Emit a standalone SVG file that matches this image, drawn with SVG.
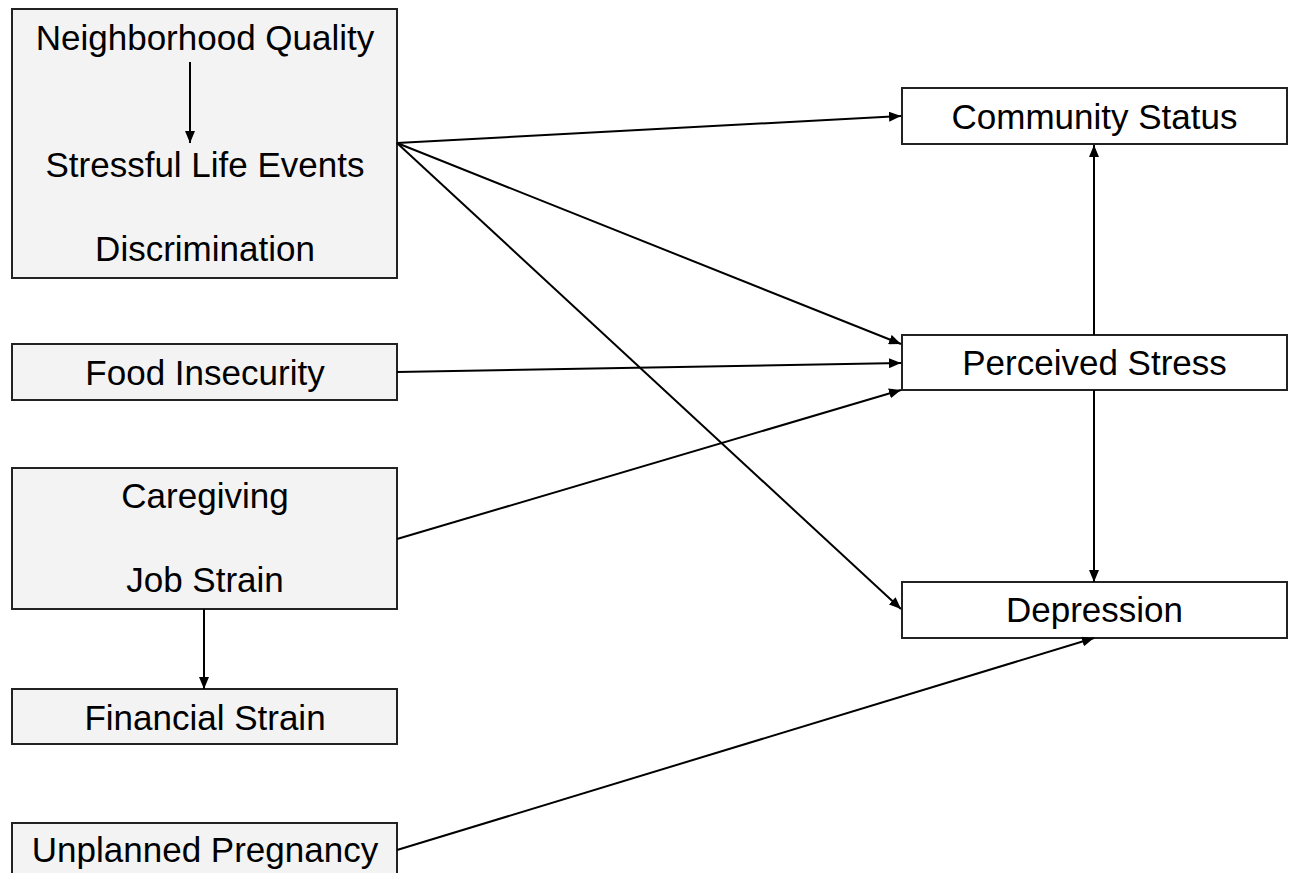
<svg xmlns="http://www.w3.org/2000/svg" width="1290" height="873" viewBox="0 0 1290 873">
<style>
.box{fill:#f3f3f3;stroke:#222;stroke-width:2}
.wbox{fill:#fff;stroke:#222;stroke-width:2}
text{font-family:"Liberation Sans",Arial,sans-serif;font-size:35px;fill:#000;text-anchor:middle}
.c line{stroke:#000;stroke-width:2;marker-end:url(#ah)}
</style>
<defs>
<marker id="ah" viewBox="0 0 12 10" refX="12" refY="5" markerWidth="12" markerHeight="10" markerUnits="userSpaceOnUse" orient="auto">
<path d="M0,0 L12,5 L0,10 Z" fill="#000"/>
</marker>
</defs>
<rect width="1290" height="873" fill="#fff"/>
<g id="n1"><rect class="box" x="12" y="9" width="385" height="269"/>
<text x="205" y="50">Neighborhood Quality</text>
<text x="205" y="177">Stressful Life Events</text>
<text x="205" y="261">Discrimination</text></g>
<g id="n2"><rect class="box" x="12" y="344" width="385" height="56"/><text x="205" y="385">Food Insecurity</text></g>
<g id="n3"><rect class="box" x="12" y="468" width="385" height="141"/>
<text x="205" y="508">Caregiving</text><text x="205" y="592">Job Strain</text></g>
<g id="n4"><rect class="box" x="12" y="689" width="385" height="55"/><text x="205" y="730">Financial Strain</text></g>
<g id="n5"><rect class="box" x="12" y="823" width="385" height="60"/><text x="205" y="862">Unplanned Pregnancy</text></g>
<g id="n6"><rect class="wbox" x="902" y="88" width="385" height="56"/><text x="1094.5" y="129">Community Status</text></g>
<g id="n7"><rect class="wbox" x="902" y="335" width="385" height="55"/><text x="1094.5" y="375">Perceived Stress</text></g>
<g id="n8"><rect class="wbox" x="902" y="582" width="385" height="56"/><text x="1094.5" y="622">Depression</text></g>
<g class="c" id="connectors">
<line x1="190" y1="62" x2="190" y2="143"/>
<line x1="397" y1="143" x2="901" y2="116"/>
<line x1="397" y1="143" x2="901" y2="344"/>
<line x1="397" y1="143" x2="901" y2="609"/>
<line x1="397" y1="372" x2="901" y2="363"/>
<line x1="397" y1="539" x2="901" y2="390"/>
<line x1="204" y1="609" x2="204" y2="689"/>
<line x1="397" y1="850" x2="1094" y2="638"/>
<line x1="1094" y1="335" x2="1094" y2="145"/>
<line x1="1094" y1="390" x2="1094" y2="582"/>
</g>
</svg>
